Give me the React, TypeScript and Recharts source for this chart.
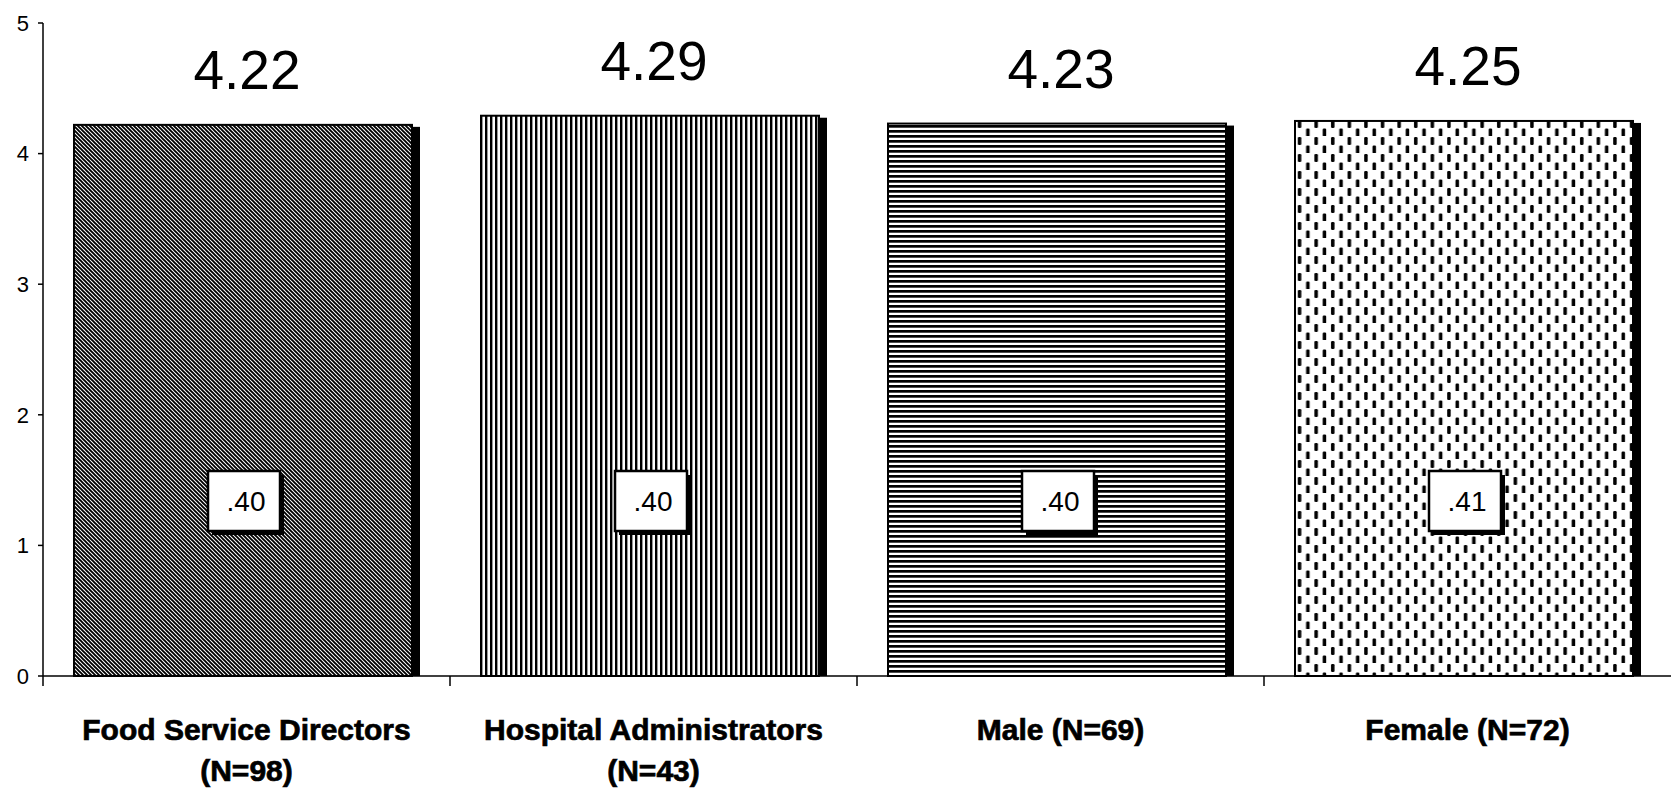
import React from 'react';
import { BarChart, Bar, XAxis, YAxis, Cell, LabelList } from 'recharts';

// Data
const categories = ['Food Service Directors', 'Hospital Administrators', 'Male', 'Female'];
const labelLine1 = ['Food Service Directors', 'Hospital Administrators', 'Male (N=69)', 'Female (N=72)'];
const labelLine2 = ['(N=98)', '(N=43)', '', ''];
const means = [4.22, 4.29, 4.23, 4.25];
const sdLabels = ['.40', '.40', '.40', '.41'];
const yTicks = [0, 1, 2, 3, 4, 5];

const data = categories.map((name, i) => ({ name, mean: means[i], sd: sdLabels[i] }));

const FONT = "'Liberation Sans', Arial, Helvetica, sans-serif";
const W = 1674;
const H = 796;
const LEFT = 43;
const RIGHT = 3;
const BAND = (W - LEFT - RIGHT) / categories.length;
const PATTERNS = ['url(#diag)', 'url(#vert)', 'url(#horiz)', 'url(#dash)'];

// bar with patterned fill and a heavy shadow on its right side
const PatternBar = (props: any) => {
  const { x, y, width, height, fill } = props;
  const sh = 8;
  return (
    <g>
      <rect x={x + width - sh} y={y + 2} width={sh} height={height - 2} fill="#000" />
      <rect x={x} y={y} width={width - sh} height={height} fill={fill} stroke="#000" strokeWidth={2} />
    </g>
  );
};

const MeanLabel = (props: any) => {
  const { x, y, width, value } = props;
  return (
    <text x={x + width / 2} y={y - 36} textAnchor="middle" fontFamily={FONT} fontSize={55} fill="#000">
      {value.toFixed(2)}
    </text>
  );
};

// small white box holding the SD
const SdBox = (props: any) => {
  const { x, y, width, height, value } = props;
  const cx = x + width / 2 - 3;
  const cy = y + height - 175;
  const bw = 72;
  const bh = 60;
  return (
    <g>
      <rect x={cx - bw / 2 + 4} y={cy - bh / 2 + 4} width={bw} height={bh} fill="#000" />
      <rect x={cx - bw / 2} y={cy - bh / 2} width={bw} height={bh} fill="#fff" stroke="#000" strokeWidth={2.5} />
      <text x={cx + 2} y={cy + 10} textAnchor="middle" fontFamily={FONT} fontSize={28} fill="#000">
        {value}
      </text>
    </g>
  );
};

const CategoryTick = (props: any) => {
  const { x, y, index } = props;
  const bx = x - BAND / 2;
  const textProps = {
    textAnchor: 'middle' as const,
    fontFamily: FONT,
    fontWeight: 'bold',
    fontSize: 30,
    fill: '#000',
    stroke: '#000',
    strokeWidth: 0.7,
  };
  return (
    <g>
      <line x1={bx} x2={bx} y1={y} y2={y + 10} stroke="#000" strokeWidth={1.5} />
      <text x={x} y={y + 64} {...textProps}>
        {labelLine1[index]}
      </text>
      {labelLine2[index] && (
        <text x={x} y={y + 105} {...textProps}>
          {labelLine2[index]}
        </text>
      )}
    </g>
  );
};

const App: React.FC = () => {
  return (
    <div style={{ position: 'absolute', left: 0, top: 0, width: W, height: H, background: '#fff' }}>
      <BarChart width={W} height={H} data={data} margin={{ top: 23, right: RIGHT, left: 0, bottom: 0 }}>
        <defs>
          <pattern id="diag" patternUnits="userSpaceOnUse" width={4} height={4}>
            <rect width={4} height={4} fill="#fff" />
            <path d="M-1,-1 L5,5 M-1,3 L1,5 M3,-1 L5,1" stroke="#000" strokeWidth={1.9} />
          </pattern>
          <pattern id="vert" patternUnits="userSpaceOnUse" width={5} height={5}>
            <rect width={5} height={5} fill="#fff" />
            <rect x={0} y={0} width={2.4} height={5} fill="#000" />
          </pattern>
          <pattern id="horiz" patternUnits="userSpaceOnUse" width={5} height={5}>
            <rect width={5} height={5} fill="#fff" />
            <rect x={0} y={0} width={5} height={2.7} fill="#000" />
          </pattern>
          <pattern id="dash" patternUnits="userSpaceOnUse" width={16.6} height={17}>
            <rect width={16.6} height={17} fill="#fff" />
            <rect x={3} y={1} width={3.5} height={8} rx={1.2} fill="#000" />
            <rect x={11.3} y={9.5} width={3.5} height={8} rx={1.2} fill="#000" />
          </pattern>
        </defs>
        <XAxis
          dataKey="name"
          height={H - 676}
          axisLine={{ stroke: '#000', strokeWidth: 1.5 }}
          tickLine={false}
          tickSize={0}
          tickMargin={0}
          interval={0}
          tick={<CategoryTick />}
        />
        <YAxis
          width={LEFT}
          domain={[0, 5]}
          ticks={yTicks}
          axisLine={{ stroke: '#000', strokeWidth: 1.5 }}
          tickLine={{ stroke: '#000', strokeWidth: 1.5 }}
          tickSize={5}
          tickMargin={9}
          tick={{ fontFamily: FONT, fontSize: 22, fill: '#000' }}
        />
        <Bar dataKey="mean" barSize={346} shape={<PatternBar />} isAnimationActive={false}>
          {data.map((_, i) => (
            <Cell key={`cell-${i}`} fill={PATTERNS[i]} />
          ))}
          <LabelList dataKey="mean" content={<MeanLabel />} />
          <LabelList dataKey="sd" content={<SdBox />} />
        </Bar>
      </BarChart>
    </div>
  );
};

export default App;
